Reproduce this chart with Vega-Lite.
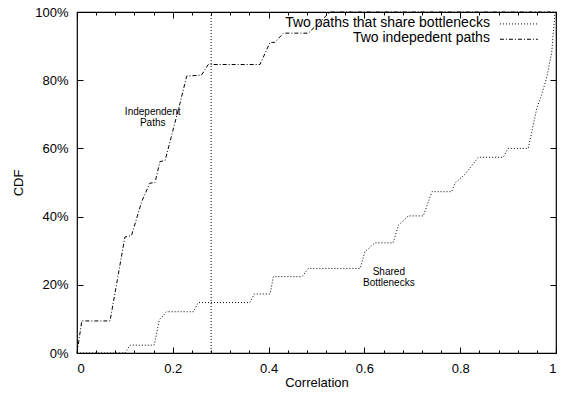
{
  "$schema": "https://vega.github.io/schema/vega-lite/v6.json",
  "width": 479,
  "height": 341,
  "autosize": {"type": "none"},
  "padding": {"left": 77, "top": 12, "right": 8, "bottom": 48},
  "background": "#ffffff",
  "config": {
    "view": {"stroke": "#000000", "strokeWidth": 1.2},
    "font": "Liberation Sans",
    "axis": {
      "labelFont": "Liberation Sans",
      "titleFont": "Liberation Sans",
      "labelFontSize": 13,
      "titleFontSize": 13,
      "titleFontWeight": "normal",
      "labelColor": "#000000",
      "titleColor": "#000000",
      "tickColor": "#000000",
      "tickWidth": 1,
      "domain": false,
      "grid": false
    }
  },
  "resolve": {"axis": {"x": "independent", "y": "independent"}},
  "layer": [
    {
      "data": {
        "values": [
          {"series": "I", "x": 0, "y": 0},
          {"series": "I", "x": 0.01, "y": 0.094},
          {"series": "I", "x": 0.069, "y": 0.094},
          {"series": "I", "x": 0.1, "y": 0.34},
          {"series": "I", "x": 0.114, "y": 0.345},
          {"series": "I", "x": 0.135, "y": 0.444},
          {"series": "I", "x": 0.152, "y": 0.498},
          {"series": "I", "x": 0.163, "y": 0.5},
          {"series": "I", "x": 0.173, "y": 0.561},
          {"series": "I", "x": 0.184, "y": 0.565},
          {"series": "I", "x": 0.215, "y": 0.732},
          {"series": "I", "x": 0.229, "y": 0.812},
          {"series": "I", "x": 0.26, "y": 0.815},
          {"series": "I", "x": 0.274, "y": 0.846},
          {"series": "I", "x": 0.382, "y": 0.846},
          {"series": "I", "x": 0.403, "y": 0.911},
          {"series": "I", "x": 0.413, "y": 0.911},
          {"series": "I", "x": 0.431, "y": 0.938},
          {"series": "I", "x": 0.483, "y": 0.938},
          {"series": "I", "x": 0.528, "y": 1.0},
          {"series": "I", "x": 1.0, "y": 1.0},
          {"series": "S", "x": 0, "y": 0},
          {"series": "S", "x": 0.1, "y": 0},
          {"series": "S", "x": 0.111, "y": 0.023},
          {"series": "S", "x": 0.161, "y": 0.023},
          {"series": "S", "x": 0.172, "y": 0.097},
          {"series": "S", "x": 0.187, "y": 0.121},
          {"series": "S", "x": 0.243, "y": 0.121},
          {"series": "S", "x": 0.253, "y": 0.148},
          {"series": "S", "x": 0.361, "y": 0.148},
          {"series": "S", "x": 0.37, "y": 0.173},
          {"series": "S", "x": 0.403, "y": 0.173},
          {"series": "S", "x": 0.41, "y": 0.224},
          {"series": "S", "x": 0.47, "y": 0.224},
          {"series": "S", "x": 0.483, "y": 0.248},
          {"series": "S", "x": 0.591, "y": 0.248},
          {"series": "S", "x": 0.601, "y": 0.297},
          {"series": "S", "x": 0.622, "y": 0.323},
          {"series": "S", "x": 0.66, "y": 0.323},
          {"series": "S", "x": 0.671, "y": 0.375},
          {"series": "S", "x": 0.692, "y": 0.402},
          {"series": "S", "x": 0.723, "y": 0.402},
          {"series": "S", "x": 0.741, "y": 0.473},
          {"series": "S", "x": 0.782, "y": 0.473},
          {"series": "S", "x": 0.789, "y": 0.498},
          {"series": "S", "x": 0.81, "y": 0.524},
          {"series": "S", "x": 0.838, "y": 0.574},
          {"series": "S", "x": 0.89, "y": 0.574},
          {"series": "S", "x": 0.9, "y": 0.6},
          {"series": "S", "x": 0.942, "y": 0.6},
          {"series": "S", "x": 0.96, "y": 0.718},
          {"series": "S", "x": 0.97, "y": 0.757},
          {"series": "S", "x": 0.981, "y": 0.81},
          {"series": "S", "x": 0.991, "y": 0.881},
          {"series": "S", "x": 0.998, "y": 1.0},
          {"series": "S", "x": 1.0, "y": 1.0}
        ]
      },
      "mark": {"type": "line", "color": "#000000", "strokeWidth": 1},
      "encoding": {
        "x": {
          "field": "x", "type": "quantitative",
          "scale": {"domain": [0, 1], "nice": false, "zero": false},
          "axis": {"orient": "bottom", "values": [0, 0.2, 0.4, 0.6, 0.8, 1], "format": "~g", "ticks": false, "labelPadding": 9, "title": "Correlation", "titlePadding": 1}
        },
        "y": {
          "field": "y", "type": "quantitative",
          "scale": {"domain": [0, 1], "nice": false, "zero": false},
          "axis": {"orient": "left", "values": [0, 0.2, 0.4, 0.6, 0.8, 1], "format": ".0%", "ticks": false, "labelPadding": 9, "title": "CDF", "titlePadding": 9}
        },
        "strokeDash": {
          "field": "series", "type": "nominal",
          "scale": {"domain": ["S", "I"], "range": [[1, 2], [4, 2, 1, 2]]},
          "legend": null
        },
        "detail": {"field": "series"}
      }
    },
    {
      "data": {"values": [{"x": 0.28}]},
      "mark": {"type": "rule", "color": "#000000", "strokeWidth": 1, "strokeDash": [1, 2]},
      "encoding": {
        "x": {
          "field": "x", "type": "quantitative",
          "axis": {"orient": "bottom", "values": [0, 0.04, 0.08, 0.12, 0.16, 0.2, 0.24, 0.28, 0.32, 0.36, 0.4, 0.44, 0.48, 0.52, 0.56, 0.6, 0.64, 0.68, 0.72, 0.76, 0.8, 0.84, 0.88, 0.92, 0.96, 1], "labels": false, "tickSize": -3, "title": null}
        }
      }
    },
    {
      "data": {
        "values": [
          {"t": "Independent\nPaths", "x": 0.158, "y": 0.707},
          {"t": "Shared\nBottlenecks", "x": 0.651, "y": 0.238}
        ]
      },
      "mark": {"type": "text", "fontSize": 10, "lineBreak": "\n", "lineHeight": 11, "align": "center", "baseline": "middle", "color": "#000000", "font": "Liberation Sans"},
      "encoding": {
        "x": {
          "field": "x", "type": "quantitative",
          "axis": {"orient": "bottom", "values": [0, 0.2, 0.4, 0.6, 0.8, 1], "labels": false, "tickSize": -6, "title": null}
        },
        "y": {
          "field": "y", "type": "quantitative",
          "axis": {"orient": "left", "values": [0, 0.2, 0.4, 0.6, 0.8, 1], "labels": false, "tickSize": -6, "title": null}
        },
        "text": {"field": "t"}
      }
    },
    {
      "data": {
        "values": [
          {"t": "Two paths that share bottlenecks", "x": 0.862, "y": 0.967},
          {"t": "Two indepedent paths", "x": 0.862, "y": 0.923}
        ]
      },
      "mark": {"type": "text", "fontSize": 14, "align": "right", "baseline": "middle", "color": "#000000", "font": "Liberation Sans"},
      "encoding": {
        "x": {
          "field": "x", "type": "quantitative",
          "axis": {"orient": "top", "values": [0, 0.04, 0.08, 0.12, 0.16, 0.2, 0.24, 0.28, 0.32, 0.36, 0.4, 0.44, 0.48, 0.52, 0.56, 0.6, 0.64, 0.68, 0.72, 0.76, 0.8, 0.84, 0.88, 0.92, 0.96, 1], "labels": false, "tickSize": -3, "title": null}
        },
        "y": {
          "field": "y", "type": "quantitative",
          "axis": {"orient": "right", "values": [0, 0.2, 0.4, 0.6, 0.8, 1], "labels": false, "tickSize": -6, "title": null}
        },
        "text": {"field": "t"}
      }
    },
    {
      "data": {
        "values": [
          {"series": "S", "x": 0.883, "y": 0.965},
          {"series": "S", "x": 0.962, "y": 0.965},
          {"series": "I", "x": 0.883, "y": 0.92},
          {"series": "I", "x": 0.962, "y": 0.92}
        ]
      },
      "mark": {"type": "line", "color": "#000000", "strokeWidth": 1},
      "encoding": {
        "x": {
          "field": "x", "type": "quantitative",
          "axis": {"orient": "top", "values": [0, 0.2, 0.4, 0.6, 0.8, 1], "labels": false, "tickSize": -6, "title": null}
        },
        "y": {"field": "y", "type": "quantitative", "axis": null},
        "strokeDash": {
          "field": "series", "type": "nominal",
          "scale": {"domain": ["S", "I"], "range": [[1, 2], [4, 2, 1, 2]]},
          "legend": null
        },
        "detail": {"field": "series"}
      }
    }
  ]
}
